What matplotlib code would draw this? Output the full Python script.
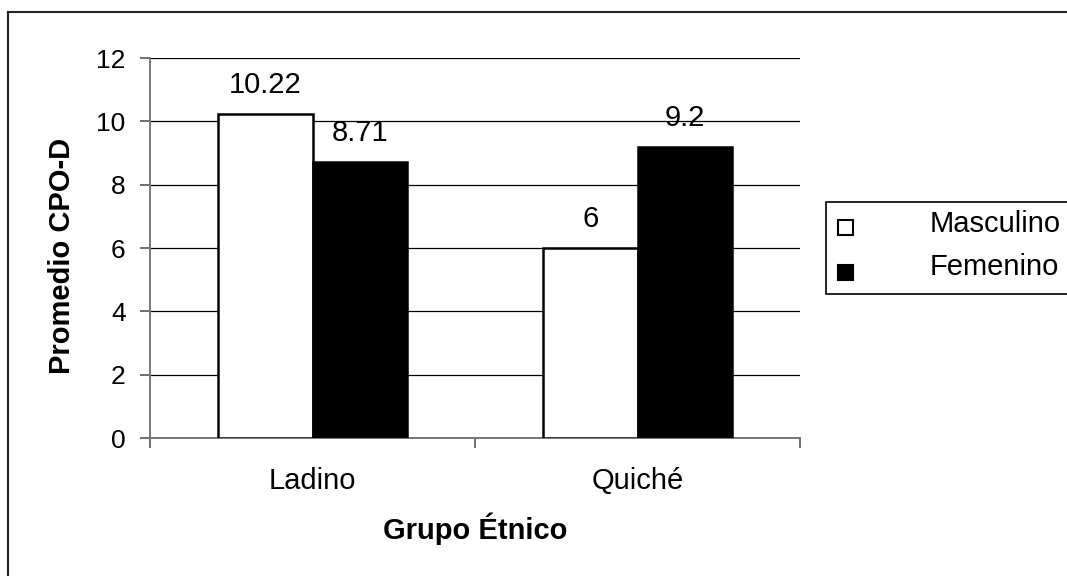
import matplotlib.pyplot as plt
import numpy as np
from matplotlib.lines import Line2D

plt.rcParams['font.family'] = ['Liberation Sans', 'DejaVu Sans']

grupos = ['Ladino', 'Quiché']
masculino = [10.22, 6]
femenino = [8.71, 9.2]
etiquetas_m = ['10.22', '6']
etiquetas_f = ['8.71', '9.2']

W, H = 1067, 576
fig = plt.figure(figsize=(W / 100, H / 100), dpi=100)
ax = fig.add_axes([150 / W, 1 - 438 / H, 650 / W, 380 / H])

x = np.arange(len(grupos))
w = 0.29
bm = ax.bar(x - w / 2, masculino, w, color='white', edgecolor='black', linewidth=1.8, zorder=3)
bf = ax.bar(x + w / 2, femenino, w, color='black', edgecolor='black', linewidth=1.8, zorder=3)

# value labels above each bar
for rect, txt in list(zip(bm, etiquetas_m)) + list(zip(bf, etiquetas_f)):
    ax.text(rect.get_x() + rect.get_width() / 2, rect.get_height() + 0.66, txt,
            ha='center', va='baseline', fontsize=21)

ax.set_xlim(-0.5, 1.5)
ax.set_ylim(0, 12)
ax.set_yticks(range(0, 13, 2))
ax.yaxis.grid(True, color='black', linewidth=0.9, zorder=0)
ax.set_axisbelow(True)

# category ticks sit between groups, labels centred under each group
ax.set_xticks([-0.5, 0.5, 1.5])
ax.set_xticklabels([])
ax.set_xticks(x, minor=True)
ax.set_xticklabels(grupos, minor=True, fontsize=21)
ax.tick_params(axis='x', which='minor', length=0, pad=21)
ax.tick_params(axis='x', which='major', length=7.5, width=1.2, color='#555555', direction='out')
ax.tick_params(axis='y', length=7.5, width=1.2, color='#555555', direction='out',
               labelsize=19, pad=10)

for s in ['top', 'right']:
    ax.spines[s].set_visible(False)
for s in ['left', 'bottom']:
    ax.spines[s].set_color('#777777')
    ax.spines[s].set_linewidth(1.4)

ax.set_ylabel('Promedio CPO-D', fontsize=21, fontweight='bold')
ax.yaxis.set_label_coords(-(150 - 76) / 650, 0.48)
ax.set_xlabel('Grupo Étnico', fontsize=21, fontweight='bold')
ax.xaxis.set_label_coords(0.5, -(529 - 438) / 380)
ax.xaxis.label.set_va('center')

# legend box, running off the right edge
fig.patches.append(plt.Rectangle((826 / W, 1 - 294 / H), 260 / W, 92 / H,
                                 transform=fig.transFigure, facecolor='white',
                                 edgecolor='black', linewidth=1.2))
fig.patches.append(plt.Rectangle((838 / W, 1 - 235 / H), 15 / W, 15 / H,
                                 transform=fig.transFigure, facecolor='white',
                                 edgecolor='black', linewidth=1.5))
fig.patches.append(plt.Rectangle((838 / W, 1 - 280 / H), 15 / W, 15 / H,
                                 transform=fig.transFigure, facecolor='black',
                                 edgecolor='black', linewidth=1.5))
fig.text(930 / W, 1 - 232 / H, 'Masculino', fontsize=21, va='baseline', ha='left')
fig.text(930 / W, 1 - 275 / H, 'Femenino', fontsize=21, va='baseline', ha='left')

# outer chart frame (top and left edges visible)
fig.lines.append(Line2D([8 / W, 1.0], [1 - 12 / H, 1 - 12 / H],
                        transform=fig.transFigure, color='#222222', linewidth=1.5))
fig.lines.append(Line2D([8 / W, 8 / W], [0, 1 - 12 / H],
                        transform=fig.transFigure, color='#222222', linewidth=1.5))

fig.savefig('out.png', dpi=100)
